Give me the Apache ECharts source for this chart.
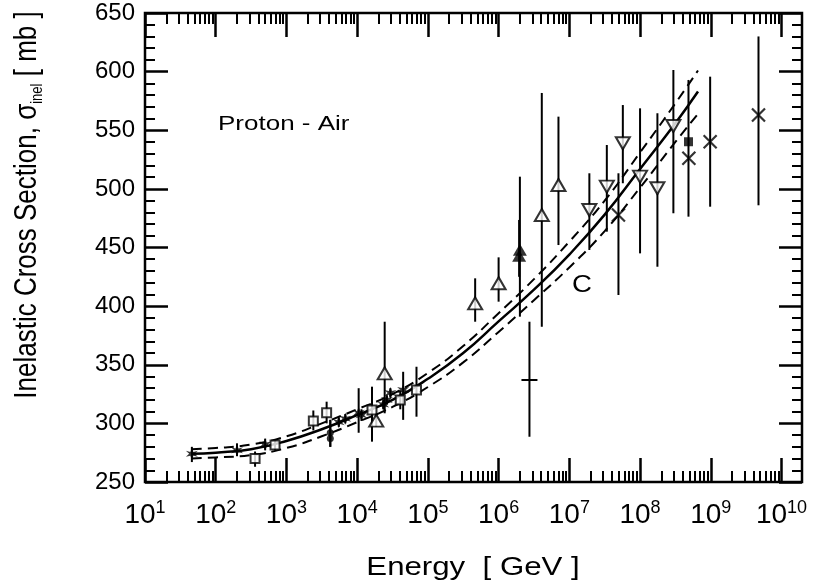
<!DOCTYPE html>
<html><head><meta charset="utf-8">
<script src="https://cdn.jsdelivr.net/npm/echarts@6/dist/echarts.min.js"></script>
<style>html,body{margin:0;padding:0;background:#fff}#c{width:814px;height:587px}</style>
</head><body><div id="c"></div>
<script>
// ---------- tick labels ----------
const xTickExponents = [1, 2, 3, 4, 5, 6, 7, 8, 9, 10];
const yTickValues = [250, 300, 350, 400, 450, 500, 550, 600, 650];

// ---------- fit curves (energy GeV, cross section mb) ----------
const curveEnergy  = [46, 100, 316, 1e3, 3.16e3, 1e4, 3.16e4, 1e5, 3.16e5, 1e6, 3.16e6, 1e7, 3.16e7, 1e8, 3.16e8, 6.6e8];
const curveCentral = [274, 275, 278, 285, 295, 307, 320, 338, 360, 387, 414, 444, 478, 517, 556, 583];
const curveUpper   = [278, 279, 282, 289, 300, 312, 325, 343, 366, 394, 423, 455, 490, 531, 573, 601];
const curveLower   = [270, 271, 273, 279, 289, 301, 314, 331, 352, 378, 405, 433, 464, 501, 540, 564];

// ---------- data points ----------
// filled stars
const starE  = [46, 200, 500, 5.5e3, 6.8e3, 1.05e4, 1.15e4, 2.34e4, 2.63e4, 2.95e4, 4.47e4];
const starS  = [274, 277, 282, 301, 304, 309, 307, 316, 320, 326, 328.5];
const starLo = [267, 272, 277, 297, 300, 292, 302, 312, 316, 322, 303];
const starHi = [280, 283, 287, 305, 308, 330, 312, 320, 324, 330, 344];
// filled circles
const dotE  = [4.17e3, 4.17e3];
const dotS  = [292, 287];
const dotLo = [280, 280];
const dotHi = [303, 303];
// open squares
const sqE  = [360, 690, 2.4e3, 3.7e3, 1.62e4, 4.07e4, 6.9e4];
const sqS  = [270, 281.6, 302, 309, 311.4, 320, 328.5];
const sqLo = [263, 277, 294, 300, 284.4, 312, 305.7];
const sqHi = [276, 286, 311, 318.5, 331.3, 328, 348.3];
// open triangles (up)
const triUpE  = [1.86e4, 2.45e4, 4.66e5, 1e6, 4.08e6, 7.02e6];
const triUpS  = [302.3, 342.7, 402.4, 419.5, 477.7, 503.3];
const triUpLo = [297, 308.6, 386.7, 403.8, 382.4, 452.1];
const triUpHi = [308, 386.7, 423.7, 441.6, 581.8, 561.6];
// filled triangles
const triFillE  = [2.0e6, 1.95e6];
const triFillS  = [448, 443];
const triFillLo = [391, 425];
const triFillHi = [510.4, 473.5];
// plus
const plusE  = [2.73e6];
const plusS  = [337];
const plusLo = [288.6];
const plusHi = [386.7];
// open triangles (down)
const triDnE  = [1.92e7, 3.39e7, 5.71e7, 1.0e8, 1.76e8, 2.96e8];
const triDnS  = [482, 501.9, 538.9, 510.4, 500.5, 553.6];
const triDnLo = [447.9, 463.5, 504.8, 445, 433.6, 479.2];
const triDnHi = [513.3, 537.4, 571.5, 568.7, 564.5, 601.4];
// filled square
const sqFillE  = [4.84e8];
const sqFillS  = [540.2];
const sqFillLo = [476.3];
const sqFillHi = [592.9];
// crosses
const crossE  = [4.95e7, 4.9e8, 9.8e8, 4.73e9];
const crossS  = [477.7, 526.1, 540.2, 563];
const crossLo = [409.5, 526.1, 484.8, 486];
const crossHi = [513.3, 526.1, 595.7, 630];

// ---------- helpers ----------
const lg = Math.log10;
const pts = (E, S) => E.map((e, i) => [lg(e), S[i]]);
const bars = (E, L, H) => E.map((e, i) => [lg(e), L[i], H[i]]);
const allBars = [].concat(
  bars(starE, starLo, starHi), bars(dotE, dotLo, dotHi), bars(sqE, sqLo, sqHi),
  bars(triUpE, triUpLo, triUpHi), bars(triFillE, triFillLo, triFillHi), bars(plusE, plusLo, plusHi),
  bars(triDnE, triDnLo, triDnHi), bars(sqFillE, sqFillLo, sqFillHi), bars(crossE, crossLo, crossHi));

const minorX = [];
xTickExponents.slice(0, -1).forEach(n => { for (let k = 2; k < 10; k++) minorX.push(n + lg(k)); });
const minorY = [];
for (let v = yTickValues[0]; v <= yTickValues[yTickValues.length - 1]; v += 10) if (v % 50) minorY.push(v);

const FONT = '"Liberation Sans", Arial, Helvetica, sans-serif';
const XMIN = 1, XMAX = 10.29;

function mkX(pos, values, len, w, labels) {
  return {type: 'value', min: XMIN, max: XMAX, position: pos, splitLine: {show: false},
    axisLine: {show: false},
    axisTick: {show: true, inside: true, length: len, customValues: values, lineStyle: {color: '#000', width: w}},
    axisLabel: labels ? {show: true, customValues: xTickExponents, margin: 17,
      formatter: v => '{b|10}{s|' + Math.round(v) + '}',
      rich: {b: {fontFamily: FONT, fontSize: 28, color: '#000', lineHeight: 32},
             s: {fontFamily: FONT, fontSize: 18, color: '#000', verticalAlign: 'top', lineHeight: 32}}} : {show: false}};
}
function mkY(pos, values, len, w, labels) {
  return {type: 'value', min: 250, max: 650, interval: 50, position: pos, splitLine: {show: false},
    axisLine: {show: false},
    axisTick: {show: true, inside: true, length: len, customValues: values, lineStyle: {color: '#000', width: w}},
    axisLabel: labels ? {show: true, margin: 10, color: '#000', fontFamily: FONT, fontSize: 24,
      customValues: yTickValues} : {show: false}};
}

const scatterBase = {type: 'scatter', xAxisIndex: 0, yAxisIndex: 0, z: 5, silent: true};
const openStyle = {color: '#fff', borderColor: '#000', borderWidth: 2};
const starPath = 'path://M0,-10 L2.2,-3.2 L8.7,-5 L3.9,0 L8.7,5 L2.2,3.2 L0,10 L-2.2,3.2 L-8.7,5 L-3.9,0 L-8.7,-5 L-2.2,-3.2 Z';
const crossPath = 'path://M-5,-5 L5,5 M5,-5 L-5,5';

const option = {
  animation: false,
  backgroundColor: '#fff',
  grid: {left: 145, right: 12, top: 13, bottom: 105, containLabel: false,
    show: true, borderColor: '#000', borderWidth: 2.5, backgroundColor: 'transparent'},
  xAxis: [mkX('bottom', xTickExponents, 24, 2.5, true), mkX('bottom', minorX, 11, 2, false),
          mkX('top', xTickExponents, 24, 2.5, false), mkX('top', minorX, 11, 2, false)],
  yAxis: [mkY('left', yTickValues, 23, 2.5, true), mkY('left', minorY, 10, 2, false),
          mkY('right', yTickValues, 23, 2.5, false), mkY('right', minorY, 10, 2, false)],
  graphic: [
    {type: 'text', x: 27, y: 205, rotation: Math.PI / 2, scaleY: 1.22,
      style: {text: '{m|Inelastic Cross Section, σ}{sub|inel}{m| [ mb ]}', align: 'center', verticalAlign: 'middle',
        rich: {m: {fontFamily: FONT, fontSize: 26, fill: '#000', lineHeight: 30},
               sub: {fontFamily: FONT, fontSize: 13, fill: '#000', verticalAlign: 'bottom', lineHeight: 30}}}},
    {type: 'text', x: 473, y: 568, scaleX: 1.2,
      style: {text: 'Energy  [ GeV ]', font: '26px ' + FONT, fill: '#000', align: 'center', verticalAlign: 'middle'}},
    {type: 'text', x: 218, y: 124, scaleX: 1.3,
      style: {text: 'Proton - Air', font: '20px ' + FONT, fill: '#000', align: 'left', verticalAlign: 'middle'}},
    {type: 'text', x: 582, y: 286, scaleX: 1.2,
      style: {text: 'C', font: '23px ' + FONT, fill: '#000', align: 'center', verticalAlign: 'middle'}}
  ],
  series: [
    {type: 'line', data: pts(curveEnergy, curveCentral), smooth: true, showSymbol: false, z: 3, silent: true,
      lineStyle: {color: '#000', width: 2.5}},
    {type: 'line', data: pts(curveEnergy, curveUpper), smooth: true, showSymbol: false, z: 3, silent: true,
      lineStyle: {color: '#000', width: 2, type: [10, 6]}},
    {type: 'line', data: pts(curveEnergy, curveLower), smooth: true, showSymbol: false, z: 3, silent: true,
      lineStyle: {color: '#000', width: 2, type: [10, 6]}},
    {type: 'custom', silent: true, z: 4, data: allBars, encode: {x: 0, y: [1, 2]},
      renderItem: (params, api) => {
        const p1 = api.coord([api.value(0), api.value(1)]);
        const p2 = api.coord([api.value(0), api.value(2)]);
        return {type: 'line', shape: {x1: p1[0], y1: p1[1], x2: p2[0], y2: p2[1]}, style: {stroke: '#000', lineWidth: 2}};
      }},
    {type: 'custom', silent: true, z: 4, data: pts(plusE, plusS),
      renderItem: (params, api) => {
        const p = api.coord([api.value(0), api.value(1)]);
        return {type: 'line', shape: {x1: p[0] - 8, y1: p[1], x2: p[0] + 8, y2: p[1]}, style: {stroke: '#000', lineWidth: 2}};
      }},
    Object.assign({}, scatterBase, {data: pts(starE, starS), symbol: starPath, symbolSize: 12, itemStyle: {color: '#000'}}),
    Object.assign({}, scatterBase, {data: pts(dotE, dotS), symbol: 'circle', symbolSize: 7, itemStyle: {color: '#000'}}),
    Object.assign({}, scatterBase, {data: pts(sqE, sqS), symbol: 'rect', symbolSize: 9, itemStyle: openStyle}),
    Object.assign({}, scatterBase, {data: pts(triUpE, triUpS), symbol: 'triangle', symbolSize: [14, 12], itemStyle: openStyle}),
    Object.assign({}, scatterBase, {data: pts(triFillE, triFillS), symbol: 'triangle', symbolSize: [14, 12], itemStyle: {color: '#000'}}),
    Object.assign({}, scatterBase, {data: pts(triDnE, triDnS), symbol: 'triangle', symbolRotate: 180, symbolSize: [14, 12], itemStyle: openStyle}),
    Object.assign({}, scatterBase, {data: pts(sqFillE, sqFillS), symbol: 'rect', symbolSize: 9, itemStyle: {color: '#000'}}),
    Object.assign({}, scatterBase, {data: pts(crossE, crossS), symbol: crossPath, symbolSize: 13,
      itemStyle: {color: 'none', borderColor: '#000', borderWidth: 2.2}})
  ]
};
const chart = echarts.init(document.getElementById('c'), null, {renderer: 'canvas'});
chart.setOption(option);
</script></body></html>
